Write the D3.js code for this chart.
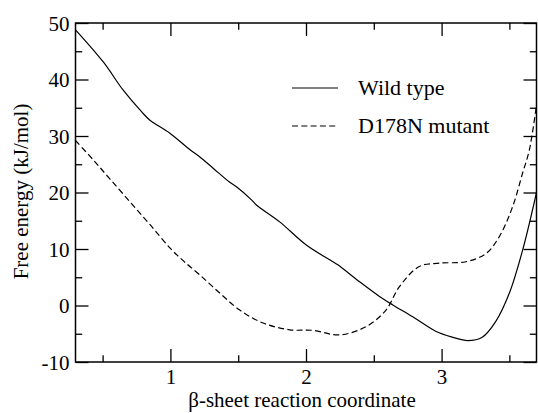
<!DOCTYPE html>
<html><head><meta charset="utf-8">
<script src="https://cdn.jsdelivr.net/npm/d3@7"></script>
<style>body{margin:0;background:#fff}svg{display:block}</style>
</head><body>
<svg id="c" width="538" height="413"></svg>
<script>
const seriesNames = ["Wild type", "D178N mutant"];
const wildX = [0.30,0.505,0.652,0.787,0.849,0.996,1.143,1.217,1.315,1.438,1.487,1.598,1.634,1.806,2.002,2.198,2.235,2.395,2.542,2.640,2.787,2.960,3.080,3.193,3.300,3.400,3.500,3.600,3.700];
const wildY = [48.8,43.1,38.1,34.3,32.8,30.5,27.6,26.3,24.3,21.8,21.0,18.7,17.8,14.8,10.7,7.75,7.2,4.2,1.6,0.1,-2.0,-4.6,-5.6,-6.2,-5.6,-2.8,2.2,10.0,20.0];
const mutX = [0.30,0.43,0.55,0.70,0.85,1.00,1.10,1.217,1.364,1.511,1.683,1.88,2.05,2.247,2.443,2.59,2.688,2.835,2.982,3.18,3.328,3.426,3.524,3.597,3.647,3.70];
const mutY = [29.2,25.8,22.5,18.4,14.3,10.1,7.8,5.4,2.2,-0.8,-3.1,-4.3,-4.4,-5.2,-3.75,-0.8,3.3,6.9,7.5,7.75,9.2,12.2,17.5,23.4,27.5,35.5];
const xMajor = [1,2,3];
const xMinor = [0.5,1.5,2.5,3.5];
const yMajor = [-10,0,10,20,30,40,50];
const yMinor = [-5,5,15,25,35,45];
const xTitle = "β-sheet reaction coordinate";
const yTitle = "Free energy (kJ/mol)";

// pick an installed serif face if any
function pickFont(){
  const c = document.createElement("canvas").getContext("2d");
  const s = "Wild type D178N mutant 0123456789";
  c.font = "40px monospace"; const mono = c.measureText(s).width;
  c.font = "40px sans-serif"; const sans = c.measureText(s).width;
  const cands = ["Liberation Serif","Times New Roman","Tinos","DejaVu Serif","Noto Serif","FreeSerif","Nimbus Roman","Nimbus Roman No9 L","Times","serif"];
  for (const f of cands){
    c.font = `40px '${f}', monospace`; const w1 = c.measureText(s).width;
    if (Math.abs(w1-mono) > 0.5 && Math.abs(w1-sans) > 0.5) return `'${f}'`;
  }
  return "'Liberation Sans', sans-serif";
}
const FONT = pickFont();
const isSans = FONT.indexOf("Sans") >= 0;
const fs = isSans ? 20 : 21, fsLeg = isSans ? 21 : 22;

const L=75.5, R=536.5, T=23, B=362;
const x = d3.scaleLinear().domain([0.3,3.7]).range([L,R]);
const y = d3.scaleLinear().domain([-10,50]).range([B,T]);
const svg = d3.select("#c").attr("font-family",FONT);

svg.append("clipPath").attr("id","cl").append("rect").attr("x",L).attr("y",T).attr("width",R-L).attr("height",B-T);

const line = d3.line().x(d=>x(d[0])).y(d=>y(d[1])).curve(d3.curveCatmullRom.alpha(0.5));
const g = svg.append("g").attr("clip-path","url(#cl)");
g.append("path").datum(wildX.map((v,i)=>[v,wildY[i]])).attr("d",line).attr("fill","none").attr("stroke","#000").attr("stroke-width",1.2);
g.append("path").datum(mutX.map((v,i)=>[v,mutY[i]])).attr("d",line).attr("fill","none").attr("stroke","#000").attr("stroke-width",1.2).attr("stroke-dasharray","6,3.3");

const fmt = d => String(d);
const axB = svg.append("g").attr("transform",`translate(0,${B})`).call(d3.axisBottom(x).tickValues(xMajor).tickSize(-13).tickFormat(fmt));
svg.append("g").attr("transform",`translate(0,${B})`).call(d3.axisBottom(x).tickValues(xMinor).tickSize(-6.7).tickFormat(""));
svg.append("g").attr("transform",`translate(0,${T})`).call(d3.axisTop(x).tickValues(xMajor).tickSize(-13).tickFormat(""));
svg.append("g").attr("transform",`translate(0,${T})`).call(d3.axisTop(x).tickValues(xMinor).tickSize(-6.7).tickFormat(""));
const axL = svg.append("g").attr("transform",`translate(${L},0)`).call(d3.axisLeft(y).tickValues(yMajor).tickSize(-13).tickFormat(fmt));
svg.append("g").attr("transform",`translate(${L},0)`).call(d3.axisLeft(y).tickValues(yMinor).tickSize(-6.7).tickFormat(""));
svg.append("g").attr("transform",`translate(${R},0)`).call(d3.axisRight(y).tickValues(yMajor).tickSize(-13).tickFormat(""));
svg.append("g").attr("transform",`translate(${R},0)`).call(d3.axisRight(y).tickValues(yMinor).tickSize(-6.7).tickFormat(""));
svg.selectAll(".domain").remove();
svg.selectAll("g").attr("font-family",FONT);
svg.selectAll(".tick line").attr("stroke","#000").attr("stroke-width",1.3);
svg.selectAll(".tick text").attr("font-size",fs).attr("fill","#000");
axB.selectAll(".tick text").attr("dy","0").attr("y",22);
axL.selectAll(".tick text").attr("x",-6).attr("dy","0.34em");

svg.append("rect").attr("x",L).attr("y",T).attr("width",R-L).attr("height",B-T).attr("fill","none").attr("stroke","#000").attr("stroke-width",1.5);

svg.append("text").attr("x",302).attr("y",407).attr("text-anchor","middle").attr("font-size",fs).text(xTitle);
svg.append("text").attr("transform","translate(28,191.5) rotate(-90)").attr("text-anchor","middle").attr("font-size",fs).text(yTitle);

const legY = [88,126], legDash = [null,"6,3.3"];
seriesNames.forEach((nm,i)=>{
  svg.append("line").attr("x1",292).attr("x2",338).attr("y1",legY[i]).attr("y2",legY[i]).attr("stroke","#000").attr("stroke-width",1.2).attr("stroke-dasharray",legDash[i]);
  svg.append("text").attr("x",358).attr("y",legY[i]+6.5).attr("font-size",fsLeg).text(nm);
});
</script>
</body></html>
